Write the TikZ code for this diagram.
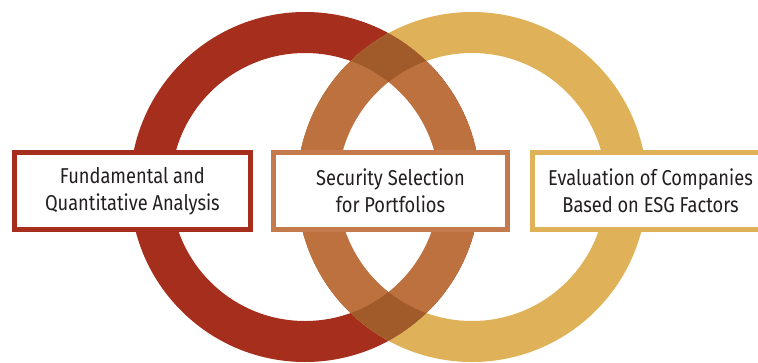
\documentclass[tikz,border=0pt]{standalone}
\usepackage{fontspec}
\setmainfont{Fira Sans}[FakeStretch=0.85]
\definecolor{ringred}{RGB}{165,46,28}
\definecolor{ringyellow}{RGB}{223,178,89}
\definecolor{ringorange}{RGB}{188,113,62}
\definecolor{ringdark}{RGB}{161,90,42}
\definecolor{boxorange}{RGB}{196,122,76}
\definecolor{textgray}{RGB}{35,31,32}
\tikzset{
  labelbox/.style={draw=#1, line width=5pt, fill=white, rectangle,
    minimum width=236pt, minimum height=77pt, inner sep=0pt, outer sep=0pt,
    align=center, text=textgray, font=\fontsize{21.5}{27}\selectfont},
}
\begin{document}
\begin{tikzpicture}[x=1pt,y=-1pt]
\useasboundingbox (0,0) rectangle (758,362);
\clip (0,0) rectangle (758,362);
\coordinate (R) at (305,187);
\coordinate (Y) at (472,187);
\def\ro{175pt}
\def\ri{134pt}
% base rings
\fill[ringred, even odd rule] (R) circle[radius=\ro] (R) circle[radius=\ri];
\fill[ringyellow, even odd rule] (Y) circle[radius=\ro] (Y) circle[radius=\ri];
% lens region
\begin{scope}
  \clip (R) circle[radius=\ro];
  \clip (Y) circle[radius=\ro];
  \fill[ringdark] (R) circle[radius=\ro];
  \fill[ringorange] (R) circle[radius=\ri];
  \fill[ringorange] (Y) circle[radius=\ri];
  \begin{scope}
    \clip (R) circle[radius=\ri];
    \fill[white] (Y) circle[radius=\ri];
  \end{scope}
\end{scope}
% boxes
\node[labelbox=ringred] (fund) at (132.4,190.8) {Fundamental and\\Quantitative Analysis};
\node[labelbox=boxorange, minimum width=234pt] (sec) at (390.5,190.8) {Security Selection\\for Portfolios};
\node[labelbox=ringyellow] (esg) at (650.5,190.8) {Evaluation of Companies\\Based on ESG Factors};
\end{tikzpicture}
\end{document}
